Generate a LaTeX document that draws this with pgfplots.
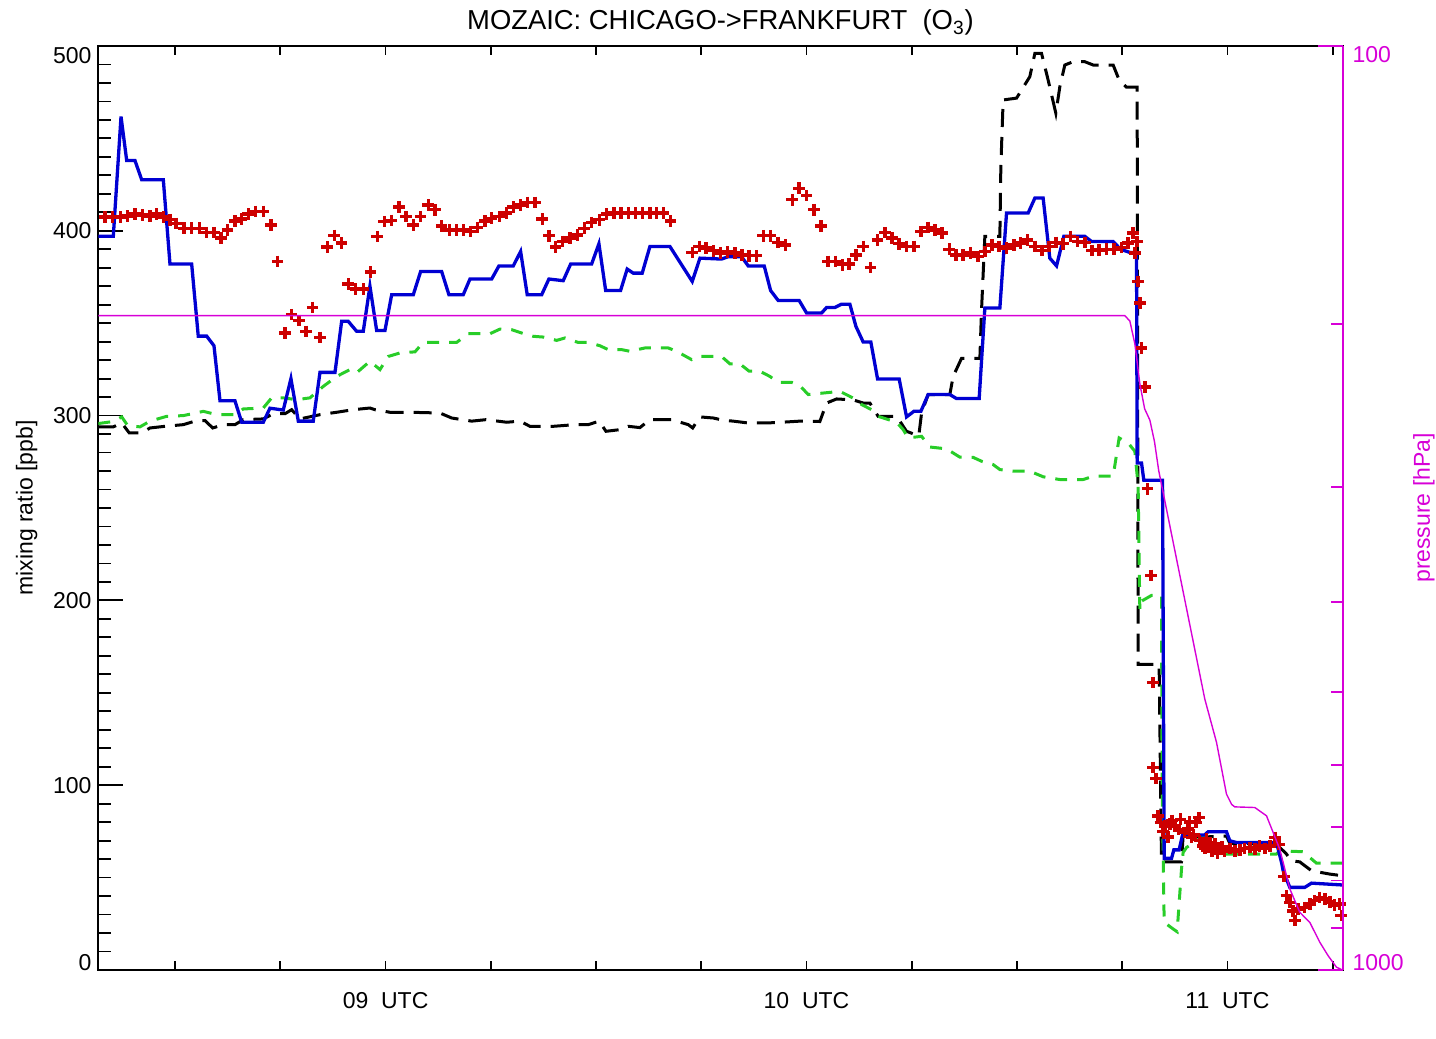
\documentclass[border=0pt]{standalone}
\usepackage{pgfplots}
\pgfplotsset{compat=1.18}
\usepackage{fontspec}
\setmainfont{Liberation Sans}
\definecolor{idlblue}{RGB}{0,0,210}
\definecolor{idlgreen}{RGB}{40,205,40}
\definecolor{idlred}{RGB}{205,0,0}
\definecolor{idlmag}{RGB}{215,0,215}
\begin{document}
\begin{tikzpicture}
\useasboundingbox (-49.25pt,-34.5pt) rectangle (668.75pt,485pt);
\pgfplotsset{base/.style={at={(0,0)},anchor=south west,scale only axis,
  width=622pt,height=462pt,xmin=19.08,xmax=196.4,
  tick align=inside,
  tick style={line width=0.9pt,black},
  axis line style={line width=1pt},
  tick label style={font=\fontsize{11.5}{13}\selectfont},
  /pgf/number format/assume math mode=true}}
% x ticks and frame
\begin{axis}[base, ymin=0, ymax=1, ytick=\empty,
  xtick={60,120,180}, xticklabels={09\ \ UTC,10\ \ UTC,11\ \ UTC},
  minor xtick={30,45,75,90,105,135,150,165,195},
  major tick length=4.5pt, minor tick length=4.5pt,
  xtick pos=both, xticklabel pos=bottom,
  xticklabel style={yshift=-7.5pt}]
\end{axis}
% mixing ratio axis
\begin{axis}[base, ymin=0, ymax=500, xtick=\empty,
  ytick={0,100,200,300,400,500},
  yticklabels={\raisebox{3.75pt}[\height][\depth]{0},100,200,300,400,\raisebox{-4.75pt}[\height][\depth]{500}},
  minor y tick num=9, ytick pos=left,
  major tick length=12.5pt, minor tick length=6.5pt]
% black long dashed
\addplot[black, line width=1.5pt, dash pattern=on 9pt off 5pt] coordinates {
(19.05,293.9) (21.19,293.9) (22.39,296) (23.47,290.6) (25.24,290.6) (26.42,293.3) (28.56,294.2) (31.17,295.1) (33.08,297.3) (34.26,297.3) (35.36,293.3) (36.87,295.1) (38.53,295.1) (39.72,297.8) (42.57,298.2) (43.99,301) (45.66,301) (46.61,303.2) (47.80,298.2) (50.65,300.5) (53.03,301.8) (55.39,303.2) (57.77,304.1) (58.49,303.2) (60.62,301.8) (63.47,301.8) (67.75,301.4) (69.42,298.7) (72.27,297) (74.31,297.8) (77.26,296.4) (79.15,297) (80.58,294.2) (83.90,294.2) (86.99,295.1) (88.89,295.1) (90.45,297) (91.41,291.5) (93.40,292.4) (94.59,294.2) (96.25,293.5) (97.68,297.8) (100.77,297.8) (103.14,295.1) (103.77,293.3) (104.81,299.3) (106.70,298.7) (108.12,297.5) (109.55,297) (111.69,296) (114.31,296) (116.45,296.4) (119.05,297) (121.90,296.8) (122.86,306.8) (124.29,309) (126.65,308.5) (128.08,306.8) (129.03,306.8) (130.21,299.6) (132.84,299.6) (134.26,291.5) (136.0,289) (136.40,301.4) (137.34,311.4) (140.43,311.4) (140.90,321.2) (142.10,331) (144.71,331) (144.95,357.3) (145.42,397) (147.56,397) (147.70,434.8) (148.03,470.8) (149.94,471.8) (151.83,483.4) (152.55,496) (153.50,496) (154.44,481.6) (155.54,463.6) (156.11,478) (156.82,489.7) (158.00,491.5) (159.67,491.5) (160.86,489.7) (163.71,489.7) (164.56,481.6) (165.61,477.7) (167.13,477.7) (167.27,165.4) (170.26,165.4) (170.60,58.5) (173.45,58.5) (173.68,72.6) (176.77,72) (179.86,72.5) (180.34,68.5) (186.99,68.1) (188.42,62.7) (189.13,59.1) (190.31,58.5) (191.98,53.7) (194.59,51.9) (196.40,51)
};
% green dashed
\addplot[idlgreen, line width=1.5pt, dash pattern=on 6pt off 5pt] coordinates {
(19.05,295.7) (21.19,296.8) (22.39,299.3) (23.24,294.6) (24.99,293.9) (26.42,297) (28.80,299.6) (31.17,300) (34.02,302.3) (35.93,300.5) (38.53,300.5) (39.72,303.6) (42.57,304.1) (43.76,309.6) (45.42,309.6) (47.33,308.6) (49.22,309.6) (51.12,315.8) (53.03,321.2) (54.92,324.9) (55.88,323.2) (57.77,329.4) (59.20,324.9) (60.38,332) (62.05,333.9) (64.19,334.5) (65.37,339.6) (70.13,339.6) (71.78,344.3) (74.88,344.3) (76.30,346.8) (77.97,346.5) (79.39,344.7) (81.05,342.9) (82.47,342.5) (84.38,340.7) (85.57,342) (87.46,339.6) (88.89,339.6) (90.55,337.8) (91.74,335.7) (93.65,335.7) (94.83,334.8) (96.97,336.6) (100.29,336.6) (101.48,334.8) (103.62,330.3) (104.56,332) (107.89,332) (109.08,328) (110.50,328) (111.83,324) (113.35,324) (114.78,321.2) (115.96,318) (117.87,318) (119.05,316.2) (120.24,311.4) (124.76,313.1) (126.65,309.5) (127.85,306) (129.27,303.2) (130.21,299.6) (132.84,296.4) (133.78,292.4) (134.49,287.9) (136.40,288.8) (137.58,283) (139.96,282) (141.86,277.5) (143.75,277.4) (144.95,275.3) (146.60,273.5) (147.56,270.8) (149.45,269.9) (151.83,269.9) (153.73,266.9) (156.11,265.4) (159.43,265.4) (160.86,267.2) (163.71,267.2) (164.56,287.9) (165.84,285.2) (166.80,280.7) (167.27,262) (167.51,195) (167.75,199.6) (169.18,202.7) (170.60,202.7) (170.69,100) (170.98,25.8) (172.26,22.2) (172.83,20.7) (173.45,54.6) (173.68,63.6) (174.17,66.3) (175.59,69.9) (177.02,73.5) (177.96,63.6) (179.86,62.7) (186.99,62.7) (187.46,64.5) (190.78,64) (192.69,57.8) (196.40,57.8)
};
% red crosses
\addplot[only marks, mark=+, mark size=2.9pt, idlred, mark options={line width=1.7pt}] coordinates {
(19.05,411.7) (20.01,407.4) (21.10,407.4) (22.24,407.4) (23.24,408) (24.28,409) (25.32,408.5) (26.42,408) (27.37,409) (28.32,407.4) (29.27,406) (30.13,404) (31.27,401.4) (32.36,401.4) (33.45,401.4) (34.50,399) (35.54,399) (36.54,396) (37.49,400.5) (38.53,405.4) (39.49,406.3) (40.43,409) (41.48,410.5) (42.57,410.5) (43.66,403.2) (44.62,383.4) (45.66,344.7) (46.61,354.6) (47.65,351.4) (48.65,345.6) (49.61,358.6) (50.65,342.3) (51.69,391.2) (52.69,397.5) (53.74,393.3) (54.68,371.2) (55.74,368.5) (56.82,368.5) (57.87,377.7) (58.81,397) (59.81,405) (60.87,405.6) (61.91,412.8) (62.90,407.7)
(63.95,403.2) (65.00,407.7) (66.08,414) (67.04,411.4) (67.99,402.7) (69.07,400.5) (70.13,400.5) (71.07,400.5) (72.13,399.6) (73.12,401.8) (74.16,405.4) (75.12,406.8) (76.20,407.7) (77.26,409.6) (78.20,412.8) (79.25,414) (80.25,415.3) (81.29,415.3) (82.33,406.3) (83.28,397.3) (84.24,391.2) (85.24,394.2) (86.28,396) (87.32,397.8) (88.32,401.4) (89.37,404.5) (90.45,406) (91.51,409) (92.55,409.6) (93.55,409.6) (94.59,409.6) (95.64,409.6) (96.64,409.6) (97.68,409.6) (98.63,409.6) (99.58,409.6) (100.63,405.4) (103.71,388.3) (104.71,391.5) (105.66,390.6) (106.70,389.2) (107.75,387.9) (108.75,388.5) (109.79,387.9) (110.83,387) (111.83,386.5) (112.88,386.5) (113.83,397.3) (114.88,397.3) (115.96,393.7) (117.02,392.4) (117.96,416.8) (118.95,423) (120.01,419) (121.05,411.4) (122.05,402.5)
(123.09,383.4) (124.14,383.4) (125.14,381.6) (126.08,382) (127.04,387) (128.08,391.5) (129.13,380.2) (130.13,395) (131.17,399) (132.21,396) (133.21,393) (134.26,391.5) (135.30,391.5) (136.30,399.6) (137.34,401.8) (138.29,400.5) (139.34,398.7) (140.34,390) (141.29,387) (142.33,387) (143.38,388) (144.47,386) (145.42,388.8) (146.46,392.4) (147.46,391.5) (148.51,390.6) (149.55,392.4) (150.51,393.3) (151.51,395) (152.55,391.5) (153.59,389.4) (154.59,391.5) (155.54,393.7) (156.58,393) (157.63,397) (158.63,394.2) (159.67,393.7) (160.71,389.4) (161.71,389.7) (162.76,390) (163.81,390) (164.90,391) (165.84,393.3) (166.56,398.7) (167.13,394.2) (166.80,388) (167.27,372.6) (167.51,360.9) (167.75,336.6) (168.22,315.5) (168.61,260.4) (169.08,213.5) (169.41,155.5) (169.41,109.6) (169.79,103.6) (170.12,83.4) (170.46,79.8) (171.07,78) (171.79,78.9) (172.50,78) (173.31,81.6) (173.92,74.4) (174.39,76.2) (174.88,71.7) (175.49,79.8) (175.96,82.5) (176.53,67.2) (177.02,70.8) (177.49,69) (178.20,68.1) (178.91,65.4) (179.62,64.5) (180.34,65.8) (181.05,64.5) (181.76,65) (182.47,65.8) (183.19,66.3) (183.90,65.4) (184.61,67.2) (185.33,65.8) (186.04,67.2) (186.75,71.7) (187.37,68) (188.04,50.6) (188.42,40.2) (188.89,36.6) (189.36,32) (189.60,26.7) (190.07,33) (191.02,33.9) (191.74,35.7) (192.45,37.5) (193.16,39.3) (193.88,38.4) (194.59,36.9) (195.30,35.1) (196.01,35.7) (196.22,29.4)
(170.8,75) (171.5,72) (172.1,81) (173.0,76) (174.6,80) (175.2,73) (176.0,70) (176.8,66) (177.8,64.5) (178.6,63) (179.2,66.5)
};
% blue solid
\addplot[idlblue, line width=1.65pt] coordinates {
(19.05,397) (21.19,397) (22.29,461.8) (23.10,438) (24.28,438) (25.24,427.6) (28.32,427.6) (29.27,382) (32.36,382) (33.30,343) (34.50,343) (35.54,337.8) (36.40,308) (38.53,308) (39.49,296.4) (42.57,296.4) (43.52,304) (45.42,303) (46.51,320) (47.56,297) (49.69,297) (50.65,323.4) (52.79,323.4) (53.74,351) (54.68,351) (55.88,345.6) (56.82,345.6) (57.77,370) (58.73,346) (59.91,346) (60.87,365.4) (63.95,365.4) (65.00,378) (67.99,378) (69.03,365.4) (71.07,365.4) (72.03,373.9) (75.12,373.9) (76.16,381) (78.20,381) (79.25,388.8) (80.19,365.4) (82.25,365.4) (83.28,373.9) (85.32,373) (86.38,382) (89.37,382) (90.41,393) (91.37,367.7) (93.50,367.7) (94.44,379.3) (95.30,377.1) (96.58,377.1) (97.68,391.5) (100.53,391.5) (103.71,372.6) (104.81,385.2) (107.89,384.7) (108.84,386) (110.74,386) (111.69,381) (113.97,381) (114.88,367.7) (115.96,362.3) (118.95,362.3) (120.01,355.5) (122.15,355.5) (122.86,358.5) (124.04,358.5) (125.00,360.3) (126.18,360.3) (127.04,348.3) (128.08,339.8) (129.17,339.8) (130.13,319.8) (133.21,319.8) (134.26,299.3) (135.30,302.3) (136.30,302.3) (137.34,311.4) (140.43,311.4) (141.39,309.2) (144.61,309.2) (145.42,358.2) (147.56,358.2) (148.51,409.6) (151.59,409.6) (152.55,417.7) (153.73,417.7) (154.68,385.2) (155.64,381) (156.68,397) (159.67,397) (160.63,394.2) (163.71,394.2) (164.76,390) (166.09,388.3) (167.04,388.3) (167.13,274.4) (167.75,274.4) (168.08,265) (170.75,265) (170.98,60.4) (172.03,60.4) (172.36,65) (173.11,65) (173.60,73.1) (176.77,73.1) (177.24,74.8) (179.86,74.8) (180.34,69.9) (181.29,69) (186.99,69) (187.71,58.2) (187.94,53.7) (188.89,44.7) (191.02,44.7) (191.98,47) (196.40,46)
};
\end{axis}
% pressure axis
\begin{axis}[at={(0,0)},anchor=south west,scale only axis,
  width=622pt,height=462pt,xmin=19.08,xmax=196.4,
  ymode=log, ymin=100, ymax=1000, y dir=reverse,
  axis x line=none, axis y line*=right,
  y axis line style={idlmag,line width=1pt},
  ytick={100,1000},
  yticklabels={\raisebox{-4.5pt}[\height][\depth]{100},\raisebox{3.5pt}[\height][\depth]{1000}},
  minor ytick={200,300,400,500,600,700,800,900},
  tick align=inside,
  tick style={idlmag,line width=0.9pt},
  major tick length=12.5pt, minor tick length=6pt,
  yticklabel style={text=idlmag, xshift=1.5pt, font=\fontsize{11.5}{13}\selectfont}]
\addplot[idlmag, line width=0.7pt] coordinates {
(19.08,195.8) (165.37,195.8) (166.09,198.5) (166.80,210) (167.51,232) (168.2,247) (168.94,254) (169.6,268) (170.2,288) (176.77,509) (178.44,567) (179.86,645) (180.6,662) (181.05,666) (183.90,667) (185.57,681) (187.46,740) (188.89,817) (190.31,866) (191.74,888) (193.16,933) (194.35,965) (195.54,993) (196.4,1000)
};
\end{axis}
\node[anchor=base, font=\fontsize{13.7}{16}\selectfont] at (311pt,470pt) {MOZAIC: CHICAGO->FRANKFURT\ \ (O\textsubscript{3})};
\node[rotate=90, font=\fontsize{11.5}{13}\selectfont] at (-35.9pt,231pt) {mixing ratio [ppb]};
\node[rotate=90, text=idlmag, font=\fontsize{11.5}{13}\selectfont] at (662.75pt,231pt) {pressure [hPa]};
\end{tikzpicture}
\end{document}
